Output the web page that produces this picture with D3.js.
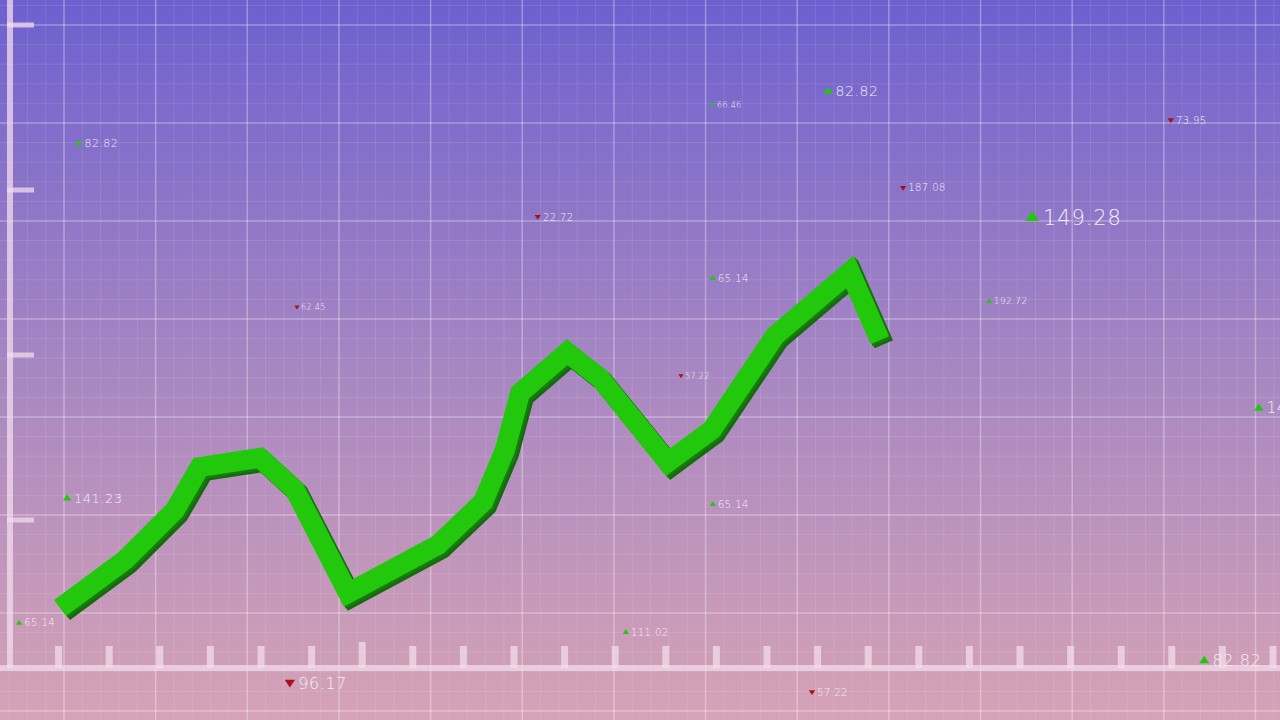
<!DOCTYPE html>
<html><head><meta charset="utf-8">
<script src="https://cdn.jsdelivr.net/npm/d3@7/dist/d3.min.js"></script>
<style>html,body{margin:0;padding:0;overflow:hidden;background:#000}</style>
</head><body>
<svg id="c" width="1280" height="720"></svg>
<script>
// ---- data ----
const lineT = [1.03, 2.31, 3.30, 3.79, 4.98, 5.67, 6.72, 8.50, 9.39, 9.82, 10.12, 11.05, 11.70, 13.04, 13.91, 15.16, 16.64, 17.23];
const lineV = [14.0, 22.7, 31.8, 39.6, 41.3, 35.5, 16.7, 25.5, 33.3, 42.7, 53.1, 60.5, 55.8, 40.5, 46.4, 63.5, 75.1, 62.7];
const yTickValues = [30, 60, 90, 120];
const xTickCount = 26;
const tallTick = 7;
const labelText = ["82.82","66.46","82.82","73.95","187.08","22.72","149.28","62.45","65.14","192.72","57.22","141.23","141.23","65.14","65.14","111.02","96.17","57.22","82.82"];
const labelUp   = [true,true,true,false,false,false,true,false,true,true,false,true,true,true,true,true,false,false,true];
const labelT    = [1.40,13.93,16.21,22.98,17.69,10.47,20.24,5.71,13.93,19.39,13.30,24.72,1.17,13.93,0.22,12.21,5.57,15.89,23.64];
const labelV    = [98.5,105.5,108.0,102.7,90.4,85.1,85.1,68.7,74.0,69.8,56.2,50.4,34.0,32.9,11.3,9.6,0.4,-1.3,4.5];
const labelRank = [11,8,14,10,10,10,21,8,10,9,8,15,13,10,10,10,16,10,16];

// ---- setup ----
const W = 1280, H = 720;
const svg = d3.select("#c");
const defs = svg.append("defs");
const grad = defs.append("linearGradient").attr("id","bg").attr("x1",0).attr("y1",0).attr("x2",0).attr("y2",1);
grad.append("stop").attr("offset","0%").attr("stop-color","#6d60cf");
grad.append("stop").attr("offset","50%").attr("stop-color","#a686c2");
grad.append("stop").attr("offset","100%").attr("stop-color","#d6a3b6");
svg.append("rect").attr("width",W).attr("height",H).attr("fill","url(#bg)");

const x = d3.scaleLinear().domain([0, 25]).range([8, 1273]);
const y = d3.scaleLinear().domain([0, 120]).range([685, 25]);

// grid scales
const gx = d3.scaleLinear().domain([0, 13]).range([64, 1255.5]);
const gy = d3.scaleLinear().domain([0, 7]).range([25, 711]);
const g = svg.append("g");
const minorX = d3.range(-5, 70).map(i => i / 5);
const minorY = d3.range(-5, 40).map(i => i / 5);
g.selectAll(".mx").data(minorX.filter(d => Math.abs(d - Math.round(d)) > 1e-6)).join("line")
  .attr("x1", d => gx(d)).attr("x2", d => gx(d)).attr("y1", 0).attr("y2", H)
  .attr("stroke", "#fff").attr("stroke-opacity", 0.1).attr("stroke-width", 1);
g.selectAll(".my").data(minorY.filter(d => Math.abs(d - Math.round(d)) > 1e-6)).join("line")
  .attr("y1", d => gy(d)).attr("y2", d => gy(d)).attr("x1", 0).attr("x2", W)
  .attr("stroke", "#fff").attr("stroke-opacity", 0.1).attr("stroke-width", 1);
g.selectAll(".Mx").data(d3.range(-1, 15)).join("line")
  .attr("x1", d => gx(d)).attr("x2", d => gx(d)).attr("y1", 0).attr("y2", H)
  .attr("stroke", "#fff").attr("stroke-opacity", 0.32).attr("stroke-width", 1.5);
g.selectAll(".My").data(d3.range(-1, 9)).join("line")
  .attr("y1", d => gy(d)).attr("y2", d => gy(d)).attr("x1", 0).attr("x2", W)
  .attr("stroke", "#fff").attr("stroke-opacity", 0.32).attr("stroke-width", 1.5);

// axes
const axCol = "#f1dcec";
const ax = svg.append("g").attr("fill", axCol).attr("fill-opacity", 0.75);
ax.append("rect").attr("x", 7).attr("y", 0).attr("width", 6).attr("height", 668);
ax.selectAll(".yt").data(yTickValues).join("rect")
  .attr("x", 7).attr("y", d => y(d) - 2.5).attr("width", 27).attr("height", 5);
ax.append("rect").attr("x", 0).attr("y", 665).attr("width", W).attr("height", 6);
ax.selectAll(".xt").data(d3.range(1, xTickCount)).join("rect")
  .attr("x", d => x(d) - 3.5).attr("width", 7)
  .attr("y", d => d === tallTick ? 642 : 646)
  .attr("height", d => d === tallTick ? 26 : 22);

// line ribbon
const pts = lineT.map((t, i) => [x(t), y(lineV[i])]);
const lg = d3.line();
[[4, "#146a0c"], [2, "#177a0e"]].forEach(([o, c]) => {
  svg.append("path").attr("d", lg(pts)).attr("transform", `translate(${o},${o})`)
    .attr("fill", "none").attr("stroke", c).attr("stroke-width", 20)
    .attr("stroke-linejoin", "miter").attr("stroke-miterlimit", 4).attr("stroke-linecap", "butt");
});
svg.append("path").attr("d", lg(pts))
  .attr("fill", "none").attr("stroke", "#22c80b").attr("stroke-width", 20)
  .attr("stroke-linejoin", "miter").attr("stroke-miterlimit", 4).attr("stroke-linecap", "butt");

// labels
const lab = svg.append("g");
labelText.forEach((txt, i) => {
  const s = labelRank[i];
  const cx = x(labelT[i]), cy = y(labelV[i]);
  const m = s * 0.32;
  const tri = labelUp[i]
    ? `M${cx - m},${cy + m * 0.6} L${cx + m},${cy + m * 0.6} L${cx},${cy - m * 0.9} Z`
    : `M${cx - m},${cy - m * 0.6} L${cx + m},${cy - m * 0.6} L${cx},${cy + m * 0.9} Z`;
  lab.append("path").attr("d", tri).attr("fill", labelUp[i] ? "#22c80b" : "#a8101a");
  lab.append("text").attr("x", cx + m + s * 0.2).attr("y", cy + s * 0.36)
    .attr("font-family", "DejaVu Sans").attr("font-weight", 200)
    .attr("font-size", s).attr("letter-spacing", s * 0.04)
    .attr("fill", "#f6eef8").text(txt);
});
</script>
</body></html>
